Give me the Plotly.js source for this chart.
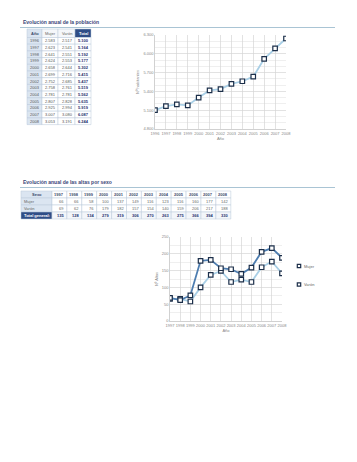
<!DOCTYPE html>
<html><head><meta charset="utf-8">
<script src="https://cdn.plot.ly/plotly-3.0.1.min.js"></script>
<style>html,body{margin:0;padding:0;background:#fff}#c{width:357px;height:462px}</style>
</head><body><div id="c"></div>
<script>
// ---- Data: población ----
const years1 = [1996,1997,1998,1999,2000,2001,2002,2003,2004,2005,2006,2007,2008];
const mujer1 = [2583,2623,2641,2624,2658,2699,2752,2758,2781,2807,2925,3007,3053];
const varon1 = [2517,2541,2551,2553,2644,2716,2685,2761,2781,2828,2994,3080,3191];
const total1 = [5100,5164,5192,5177,5302,5415,5437,5519,5562,5635,5919,6087,6244];
const headers1 = ["Año","Mujer","Varón","Total"];

// ---- Data: altas por sexo ----
const years2 = [1997,1998,1999,2000,2001,2002,2003,2004,2005,2006,2007,2008];
const mujer2 = [66,66,58,100,137,149,116,123,116,160,177,142];
const varon2 = [69,62,76,179,182,157,154,140,159,206,217,188];
const total2 = [135,128,134,279,319,306,270,263,275,366,394,330];
const header2 = "Sexo";
const rowLabels2 = ["Mujer","Varón","Total general:"];
const seriesNames = ["Mujer","Varón"];

const W = 357, H = 462;
const px = x => x / W, py = y => 1 - y / H;
const fmt = n => n >= 1000 ? Math.floor(n/1000) + "." + String(n % 1000).padStart(3,"0") : String(n);

const navy = "#1f2f6e", dark = "#2f4d86", light = "#dbe5f1", lineC = "#b9c9da";
const tf = "Liberation Sans, Arial, sans-serif";

const shapes = [], annotations = [];

// generic table painter (cells: rows of {t, fill, color, bold, align})
function paintTable(colEdges, rowEdges, grid) {
  grid.forEach((row, r) => row.forEach((c, k) => {
    const x0 = colEdges[k], x1 = colEdges[k+1], y0 = rowEdges[r], y1 = rowEdges[r+1];
    shapes.push({type: "rect", xref: "paper", yref: "paper", x0: px(x0), x1: px(x1), y0: py(y1), y1: py(y0),
      fillcolor: c.fill, line: {color: lineC, width: 0.5}, layer: "below"});
    const ax = c.align === "left" ? x0 + 1.5 : c.align === "right" ? x1 - 1.5 : (x0 + x1) / 2;
    annotations.push({text: c.bold ? "<b>" + c.t + "</b>" : c.t, xref: "paper", yref: "paper",
      x: px(ax), y: py((y0 + y1) / 2), xanchor: c.align || "center", yanchor: "middle", showarrow: false,
      borderpad: 0, font: {family: tf, size: 4, color: c.color}});
  }));
}

// Table 1
{
  const cols = [27, 42, 58, 75, 91];
  const rows = [29, 37.5];
  years1.forEach(() => rows.push(rows[rows.length - 1] + 6.7));
  const g = [headers1.map((h, k) => ({t: h, bold: k === 0 || k === 3, align: "center",
    fill: k === 0 ? light : k === 3 ? dark : "#f5f7fa", color: k === 3 ? "#fff" : k === 0 ? "#3a4a6a" : "#666"}))];
  years1.forEach((y, i) => g.push([
    {t: String(y), fill: light, color: "#555", align: "center"},
    {t: fmt(mujer1[i]), fill: "#fff", color: "#555", align: "right"},
    {t: fmt(varon1[i]), fill: "#fff", color: "#555", align: "right"},
    {t: fmt(total1[i]), fill: "#fff", color: navy, align: "right", bold: true}]));
  paintTable(cols, rows, g);
}
// Table 2
{
  const cols = [21, 52];
  years2.forEach(() => cols.push(cols[cols.length - 1] + 14.9));
  const rows = [191, 198, 205, 212, 219];
  const g = [[{t: header2, bold: true, fill: light, color: "#3a4a6a", align: "center"}]
    .concat(years2.map(y => ({t: String(y), bold: true, fill: "#fff", color: "#3a4a6a", align: "right"})))];
  [mujer2, varon2, total2].forEach((arr, r) => {
    const isT = r === 2;
    g.push([{t: rowLabels2[r], bold: isT, fill: isT ? dark : light, color: isT ? "#fff" : "#666", align: "left"}]
      .concat(arr.map(v => ({t: String(v), bold: isT, fill: isT ? "#f3f6fa" : "#fff", color: isT ? navy : "#666", align: "right"}))));
  });
  paintTable(cols, rows, g);
}

const mk = {symbol: "square", size: 4.5, color: "#ffffff", line: {color: "#1c2f4a", width: 1.2}};
const lineCols = ["#a9cfe6", "#4d7db0"];

const s1 = {type: "scatter", mode: "lines+markers", x: years1, y: total1, xaxis: "x", yaxis: "y",
  line: {color: "#a9cfe6", width: 1.8}, marker: mk, showlegend: false};
const s2m = {type: "scatter", mode: "lines+markers", name: seriesNames[0], x: years2, y: mujer2, xaxis: "x2", yaxis: "y2",
  line: {color: lineCols[0], width: 1.8}, marker: mk, showlegend: false};
const s2v = {type: "scatter", mode: "lines+markers", name: seriesNames[1], x: years2, y: varon2, xaxis: "x2", yaxis: "y2",
  line: {color: lineCols[1], width: 1.8}, marker: mk, showlegend: false};

// legend (manual, small)
seriesNames.forEach((n, i) => {
  const yc = 266 + i * 18.5;
  shapes.push({type: "rect", xref: "paper", yref: "paper", x0: px(297.3), x1: px(300.7), y0: py(yc + 1.7), y1: py(yc - 1.7),
    fillcolor: "#fff", line: {color: "#1c2f4a", width: 1.2}});
  annotations.push({text: n, xref: "paper", yref: "paper", x: px(302.5), y: py(yc), xanchor: "left", yanchor: "middle",
    showarrow: false, borderpad: 0, font: {family: tf, size: 4, color: "#666"}});
});

annotations.push(
  {text: "<b>Evolución anual de la población</b>", x: px(22), y: py(26), xref: "paper", yref: "paper",
    xanchor: "left", yanchor: "bottom", showarrow: false, borderpad: 0, font: {family: tf, size: 5, color: "#3a4578"}},
  {text: "<b>Evolución anual de las altas por sexo</b>", x: px(22), y: py(186), xref: "paper", yref: "paper",
    xanchor: "left", yanchor: "bottom", showarrow: false, borderpad: 0, font: {family: tf, size: 5, color: "#3a4578"}});
shapes.push(
  {type: "line", xref: "paper", yref: "paper", x0: px(20), x1: px(335), y0: py(27.5), y1: py(27.5), line: {color: "#a9c4d4", width: 1}},
  {type: "line", xref: "paper", yref: "paper", x0: px(20), x1: px(335), y0: py(187.5), y1: py(187.5), line: {color: "#a9c4d4", width: 1}});

const tickFont = {family: tf, size: 4, color: "#888"};
const grid = "#d6d6d6";
const axX = (dom, r) => ({domain: dom, range: r, dtick: 1, tickformat: "d", tickangle: 0, showgrid: true, gridcolor: grid, gridwidth: 0.7,
  zeroline: false, showline: true, linecolor: "#bdbdbd", linewidth: 0.7, ticks: "", tickfont: tickFont, fixedrange: true,
  title: {text: "Año", font: {family: tf, size: 4, color: "#888"}, standoff: 2}, automargin: false});
const axY = (dom, r, dt, mdt, fmtS, ttl, anchor) => ({domain: dom, range: r, dtick: dt, tickformat: fmtS, anchor: anchor,
  showgrid: true, gridcolor: grid, gridwidth: 0.7, zeroline: false, showline: true, linecolor: "#bdbdbd", linewidth: 0.7,
  minor: {dtick: mdt, showgrid: true, gridcolor: "#e4e4e4", gridwidth: 0.6},
  ticks: "", tickfont: tickFont, fixedrange: true, automargin: false,
  title: {text: ttl, font: {family: tf, size: 4, color: "#888"}, standoff: 3}});

const layout = {
  width: W, height: H, margin: {l: 0, r: 0, t: 0, b: 0},
  paper_bgcolor: "#fff", plot_bgcolor: "#fff",
  separators: ",.",
  font: {family: tf},
  showlegend: false,
  xaxis: axX([px(155), px(286)], [1996, 2008]),
  yaxis: axY([py(129), py(35)], [4800, 6300], 300, 100, ",d", "Nº habitantes", "x"),
  xaxis2: Object.assign(axX([px(170), px(282)], [1997, 2008]), {anchor: "y2"}),
  yaxis2: axY([py(321), py(237)], [0, 250], 50, 25, "d", "Nº Altas", "x2"),
  annotations: annotations,
  shapes: shapes
};

Plotly.newPlot("c", [s1, s2m, s2v], layout, {displayModeBar: false, staticPlot: true});
</script></body></html>
